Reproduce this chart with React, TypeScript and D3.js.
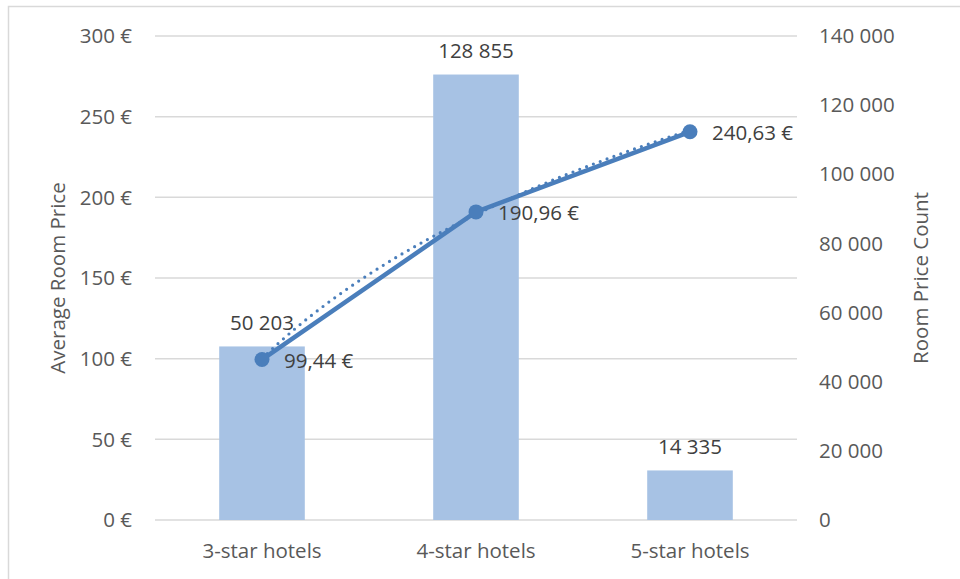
import React from 'react';
import * as d3 from 'd3';

const WIDTH = 960;
const HEIGHT = 579;
const MARGIN = { top: 36, right: 163, bottom: 59, left: 155 };

const CATEGORIES = ['3-star hotels', '4-star hotels', '5-star hotels'];
const ROOM_COUNT = [50203, 128855, 14335];
const AVG_PRICE = [99.44, 190.96, 240.63];
const PRICE_TICKS = [0, 50, 100, 150, 200, 250, 300];
const COUNT_TICKS = [0, 20000, 40000, 60000, 80000, 100000, 120000, 140000];

const BAR_COLOR = '#a7c2e4';
const LINE_COLOR = '#4a7ebb';
const GRID_COLOR = '#d9d9d9';
const AXIS_TEXT = '#595959';
const LABEL_TEXT = '#404040';
const FONT = '"Open Sans", "Noto Sans", sans-serif';
const FS = 20.5;

const fmtCount = (v: number) => d3.format(',')(v).replace(/,/g, ' ');
const fmtEuro = (v: number) => `${v.toFixed(2).replace('.', ',')} €`;

// Excel-style logarithmic trendline fitted to the price series
function logFit(values: number[]) {
  const xs = values.map((_, i) => Math.log(i + 1));
  const mx = d3.mean(xs) ?? 0;
  const my = d3.mean(values) ?? 0;
  const sxy = d3.sum(xs, (x, i) => (x - mx) * (values[i] - my));
  const sxx = d3.sum(xs, (x) => (x - mx) ** 2);
  const b = sxy / sxx;
  const a = my - b * mx;
  return (t: number) => a + b * Math.log(t);
}

export default function App() {
  const innerW = WIDTH - MARGIN.left - MARGIN.right;
  const bottom = HEIGHT - MARGIN.bottom;

  const x = d3.scaleBand().domain(CATEGORIES).range([MARGIN.left, MARGIN.left + innerW]).paddingInner(0.6).paddingOuter(0.3);
  const xc = (i: number) => (x(CATEGORIES[i]) ?? 0) + x.bandwidth() / 2;
  const yL = d3.scaleLinear().domain([0, 300]).range([bottom, MARGIN.top]);
  const yR = d3.scaleLinear().domain([0, 140000]).range([bottom, MARGIN.top]);

  const line = d3
    .line<number>()
    .x((_, i) => xc(i))
    .y((d) => yL(d));

  const trend = logFit(AVG_PRICE);
  const tSamples = d3.range(1, 3.0001, 0.02);
  const step = xc(1) - xc(0);
  const trendLine = d3
    .line<number>()
    .x((t) => xc(0) + (t - 1) * step)
    .y((t) => yL(trend(t)));

  const midY = (MARGIN.top + bottom) / 2;

  return (
    <div style={{ position: 'absolute', left: 0, top: 0 }}>
      <svg width={WIDTH} height={HEIGHT} style={{ display: 'block', fontFamily: FONT }}>
        <rect x={0} y={0} width={WIDTH} height={HEIGHT} fill="#fff" />
        <rect x={8.5} y={6.5} width={WIDTH + 20} height={HEIGHT + 20} fill="none" stroke={GRID_COLOR} strokeWidth={1.5} />

        {PRICE_TICKS.map((t) => (
          <line key={`g-${t}`} x1={MARGIN.left} x2={MARGIN.left + innerW} y1={yL(t)} y2={yL(t)} stroke={GRID_COLOR} strokeWidth={1.5} />
        ))}

        {PRICE_TICKS.map((t) => (
          <text key={`l-${t}`} x={132} y={yL(t)} dy="0.35em" textAnchor="end" fontSize={FS} fill={AXIS_TEXT}>
            {`${t} €`}
          </text>
        ))}
        {COUNT_TICKS.map((t) => (
          <text key={`r-${t}`} x={819} y={yR(t)} dy="0.35em" textAnchor="start" fontSize={FS} fill={AXIS_TEXT}>
            {fmtCount(t)}
          </text>
        ))}

        <text transform={`translate(58, ${midY}) rotate(-90)`} textAnchor="middle" dy="0.35em" fontSize={FS} fill={AXIS_TEXT}>
          Average Room Price
        </text>
        <text transform={`translate(921, ${midY}) rotate(-90)`} textAnchor="middle" dy="0.35em" fontSize={FS} fill={AXIS_TEXT}>
          Room Price Count
        </text>

        {CATEGORIES.map((c, i) => (
          <rect key={c} x={x(c)} y={yR(ROOM_COUNT[i])} width={x.bandwidth()} height={bottom - yR(ROOM_COUNT[i])} fill={BAR_COLOR} />
        ))}

        {CATEGORIES.map((c, i) => (
          <text key={`c-${c}`} x={xc(i)} y={551} dy="0.35em" textAnchor="middle" fontSize={FS} fill={AXIS_TEXT}>
            {c}
          </text>
        ))}

        {CATEGORIES.map((c, i) => (
          <text key={`bl-${c}`} x={xc(i)} y={yR(ROOM_COUNT[i]) - 24} dy="0.35em" textAnchor="middle" fontSize={FS} fill={LABEL_TEXT}>
            {fmtCount(ROOM_COUNT[i])}
          </text>
        ))}

        <path d={trendLine(tSamples) ?? ''} fill="none" stroke={LINE_COLOR} strokeWidth={3.2} strokeDasharray="0 7.3" strokeLinecap="round" />
        <path d={line(AVG_PRICE) ?? ''} fill="none" stroke={LINE_COLOR} strokeWidth={4.5} strokeLinejoin="round" />
        {AVG_PRICE.map((v, i) => (
          <circle key={`m-${i}`} cx={xc(i)} cy={yL(v)} r={7.5} fill={LINE_COLOR} />
        ))}
        {AVG_PRICE.map((v, i) => (
          <text key={`pl-${i}`} x={xc(i) + 22} y={yL(v) + 1} dy="0.35em" textAnchor="start" fontSize={FS} fill={LABEL_TEXT}>
            {fmtEuro(v)}
          </text>
        ))}
      </svg>
    </div>
  );
}
